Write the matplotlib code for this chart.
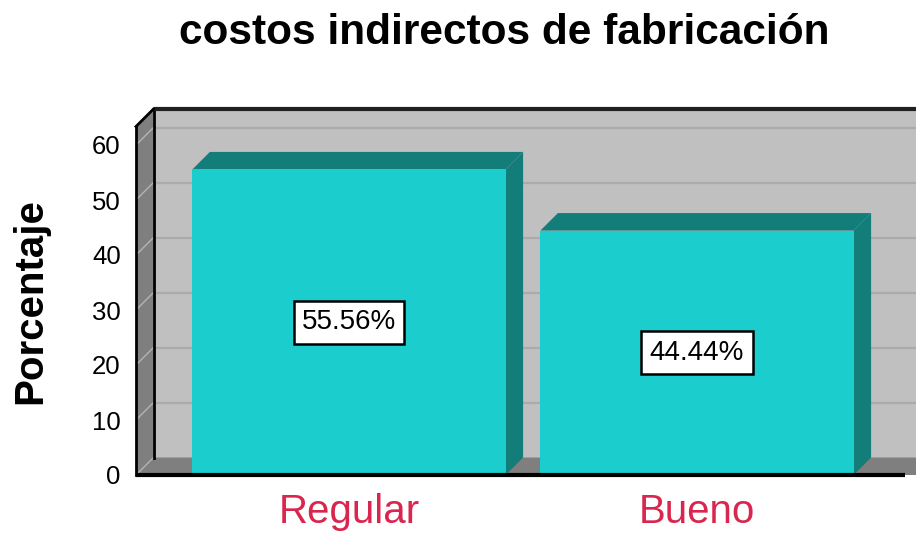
import matplotlib
matplotlib.use('Agg')
import matplotlib.pyplot as plt
from matplotlib.patches import Polygon

# ---- data ----
categories = ['Regular', 'Bueno']
values = [55.56, 44.44]
yticks = [0, 10, 20, 30, 40, 50, 60]
title = 'costos indirectos de fabricación'
ylabel = 'Porcentaje'

plt.rcParams['font.family'] = ['Liberation Sans', 'DejaVu Sans']

W, H = 916, 533
fig = plt.figure(figsize=(W / 100, H / 100), dpi=100)
fig.patch.set_facecolor('white')

# axes placement (pixels)
ax_left, ax_right, ax_bottom, ax_top = 136, 916, 475, 109
ax = fig.add_axes([ax_left / W, 1 - ax_bottom / H,
                   (ax_right - ax_left) / W, (ax_bottom - ax_top) / H])
px_per_y = 5.5
px_per_x = 348.0
ymax = (ax_bottom - ax_top) / px_per_y
x0 = -(349 - ax_left) / px_per_x
x1 = x0 + (ax_right - ax_left) / px_per_x
dx = 17.5 / px_per_x
dy = 17.5 / px_per_y
wall_top = ymax - dy

wall_c = '#c0c0c0'
side_c = '#7f7f7f'
grid_c = '#ababab'
bar_c = '#1ccdcd'
bar_dark = '#137d7a'

# back wall
ax.add_patch(Polygon([(x0 + dx, dy), (x1 + 0.1, dy), (x1 + 0.1, ymax), (x0 + dx, ymax)],
                     closed=True, fc=wall_c, ec='none', zorder=0, clip_on=False))
for t in yticks[1:]:
    ax.plot([x0 + dx, x1 + 0.1], [t + dy, t + dy], color=grid_c, lw=1.6, zorder=0.5,
            clip_on=False, solid_capstyle='butt')
# left wall
ax.add_patch(Polygon([(x0, 0), (x0 + dx, dy), (x0 + dx, ymax), (x0, wall_top)],
                     closed=True, fc=side_c, ec='none', zorder=1, clip_on=False))
for t in yticks[1:]:
    ax.plot([x0, x0 + dx], [t, t + dy], color='#b4b4b4', lw=1.0, zorder=1.2, clip_on=False)
# floor
ax.add_patch(Polygon([(x0, 0), (x0 + dx, dy), (x1 + 0.05, dy), (x1 - dx + 0.05, 0)],
                     closed=True, fc=side_c, ec='none', zorder=1, clip_on=False))
ax.plot([x0, x0 + dx], [0, dy], color='#b4b4b4', lw=1.0, zorder=1.2, clip_on=False)
# edges
ax.plot([x0, x1 - dx + 0.02], [0, 0], color='black', lw=3, zorder=6, clip_on=False,
        solid_capstyle='butt')
ax.plot([x0 + dx, x1 + 0.1], [ymax, ymax], color='#202020', lw=3, zorder=6, clip_on=False,
        solid_capstyle='butt')
ax.plot([x0, x0], [0, wall_top], color='black', lw=2, zorder=6, clip_on=False)
ax.plot([x0, x0 + dx], [wall_top, ymax], color='black', lw=2, zorder=6, clip_on=False)
ax.plot([x0 + dx, x0 + dx], [dy, ymax], color='black', lw=2, zorder=1.5, clip_on=False)

# bars
bw = 0.9
xs = list(range(len(categories)))
ax.bar(xs, values, width=bw, color=bar_c, zorder=3, linewidth=0)
for i, v in zip(xs, values):
    xl, xr = i - bw / 2, i + bw / 2
    ax.add_patch(Polygon([(xr, 0), (xr + dx, dy), (xr + dx, v + dy), (xr, v)],
                         closed=True, fc=bar_dark, ec='none', zorder=2.9, clip_on=False))
    ax.add_patch(Polygon([(xl, v), (xl + dx, v + dy), (xr + dx, v + dy), (xr, v)],
                         closed=True, fc=bar_dark, ec='none', zorder=2.9, clip_on=False))
    ax.text(i, v / 2, f'{v:.2f}%', ha='center', va='center', fontsize=20, zorder=5,
            bbox=dict(boxstyle='square,pad=0.3', fc='white', ec='black', lw=1.8))

ax.set_xlim(x0, x1)
ax.set_ylim(0, ymax)
ax.set_yticks(yticks)
ax.set_xticks(xs, categories)
ax.tick_params(axis='y', length=0, pad=11, labelsize=18.5, labelcolor='black')
ax.tick_params(axis='x', length=0, pad=13, labelsize=29, labelcolor='#d9264f')
for s in ax.spines.values():
    s.set_visible(False)
ax.set_facecolor('none')

fig.text(504 / W, 1 - 44 / H, title, ha='center', va='baseline', fontsize=30.5,
         fontweight='bold')
fig.text(30 / W, 1 - 301 / H, ylabel, rotation=90, ha='center', va='center',
         fontsize=29, fontweight='bold')

fig.savefig('out.png', dpi=100)
